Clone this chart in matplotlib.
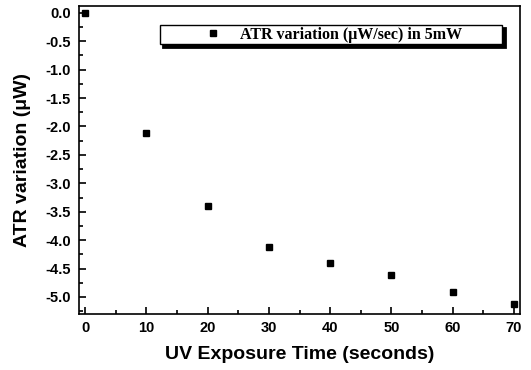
import numpy as np
import matplotlib
matplotlib.use("Agg")
import matplotlib.pyplot as plt
from matplotlib.ticker import MultipleLocator

plt.rcParams["axes.unicode_minus"] = False

# data
exposure_time = [0, 10, 20, 30, 40, 50, 60, 70]
atr_variation = [0.0, -2.11, -3.40, -4.12, -4.40, -4.61, -4.91, -5.12]
series_label = "ATR variation (\u03bcW/sec) in 5mW"

fig = plt.figure(figsize=(5.31, 3.70), dpi=100)
ax = fig.add_axes([79 / 531, 1 - 314 / 370, (520 - 79) / 531, (314 - 6) / 370])

ax.plot(exposure_time, atr_variation, linestyle="none", marker="s",
        markersize=5, color="black", label=series_label)

ax.set_xlim(-1, 71)
ax.set_ylim(-5.3, 0.12)
ax.xaxis.set_major_locator(MultipleLocator(10))
ax.xaxis.set_minor_locator(MultipleLocator(5))
ax.yaxis.set_major_locator(MultipleLocator(0.5))
ax.yaxis.set_minor_locator(MultipleLocator(0.25))
ax.tick_params(which="both", direction="in", top=False, right=False, width=1.2)
ax.tick_params(which="major", length=5)
ax.tick_params(which="minor", length=3)
ax.tick_params(axis="y", pad=6)
ax.tick_params(axis="x", pad=5)
for lab in ax.get_xticklabels() + ax.get_yticklabels():
    lab.set_fontfamily("Liberation Sans")
    lab.set_fontweight("bold")
    lab.set_fontsize(10.5)
for sp in ax.spines.values():
    sp.set_linewidth(1.2)

ax.set_xlabel("UV Exposure Time (seconds)", fontfamily="Liberation Sans",
              fontweight="bold", fontsize=14, labelpad=8)
ax.set_ylabel("ATR variation (\u03bcW)", fontfamily="Liberation Sans",
              fontweight="bold", fontsize=14, labelpad=10)

# legend box stretched to the width seen in the figure
leg = ax.legend(loc="upper left", bbox_to_anchor=(0.184, 0.5, 0.775, 0.438),
                mode="expand",
                prop={"family": "Liberation Serif", "weight": "bold", "size": 11.5},
                fancybox=False,
                shadow={"color": "black", "alpha": 1, "linewidth": 2},
                framealpha=1, edgecolor="black", borderpad=0.1,
                borderaxespad=0, handlelength=6.4, handletextpad=-1.5,
                markerscale=1.0)
leg.get_frame().set_linewidth(1.0)

fig.savefig("out.png", dpi=100)
